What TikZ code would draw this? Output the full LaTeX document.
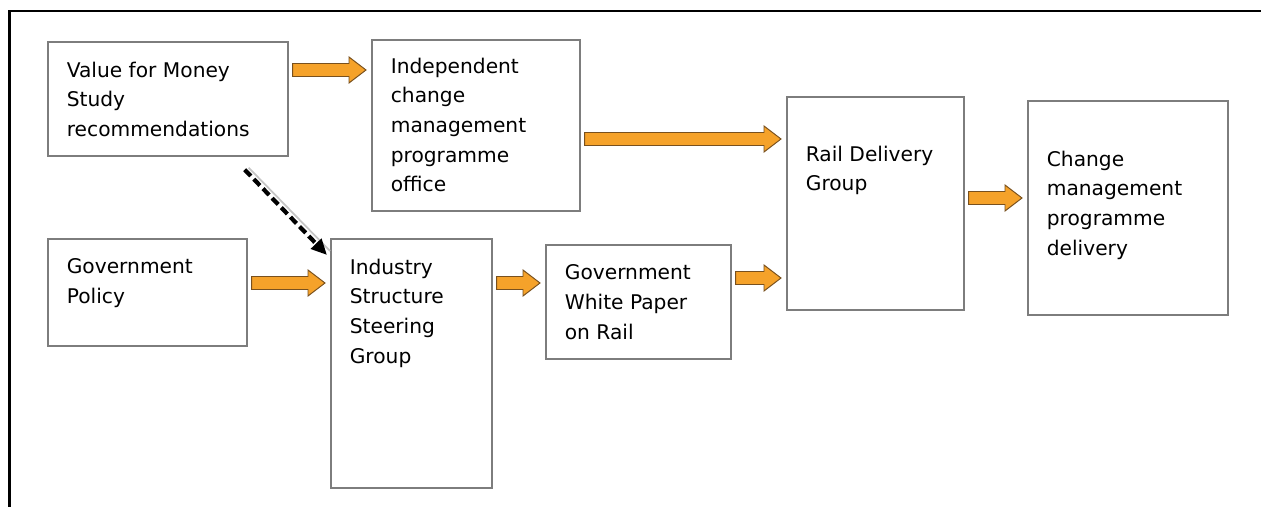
\documentclass[tikz,border=0pt]{standalone}
\usepackage{fontspec}
\setmainfont{DejaVu Sans}
\usetikzlibrary{arrows.meta,calc}

\definecolor{boxgray}{RGB}{125,125,125}
\definecolor{arrfill}{RGB}{245,162,42}
\definecolor{arredge}{RGB}{120,80,30}

\newlength\pxu
\setlength\pxu{0.02cm}
% box text: width, height, top gap, lines
\newcommand{\boxtxt}[4]{\parbox[t][#2\pxu][t]{#1\pxu}{\vspace*{#3\pxu}\leftskip=19\pxu\relax #4}}
% orange block arrow: from node, to node, y
\newcommand{\orangearrow}[3]{%
  \path ($(#1.east |- 0,#3)+(4,0)$) coordinate (oa-s)
        ($(#2.west |- 0,#3)+(-5,0)$) coordinate (oa-e);
  \draw[blockarrow] ($(oa-s)+(0,-6.5)$) -- ($(oa-e)+(-17,-6.5)$) -- ($(oa-e)+(-17,-13)$) -- (oa-e)
    -- ($(oa-e)+(-17,13)$) -- ($(oa-e)+(-17,6.5)$) -- ($(oa-s)+(0,6.5)$) -- cycle;}

\begin{document}
\begin{tikzpicture}[x=0.02cm, y=-0.02cm,
  box/.style={draw=boxgray, line width=0.95pt, anchor=north west, inner sep=0pt,
    font=\fontsize{11.5}{16.9}\selectfont},
  blockarrow/.style={fill=arrfill, draw=arredge, line width=0.55pt, line join=miter},
  dasharrow/.style={draw=black, line width=2.4pt, dash pattern=on 5pt off 2.5pt,
    -{Triangle[length=9pt, width=8pt]}}]

\useasboundingbox (0,0) rectangle (1261,507);

% outer frame
\draw[line width=1.4pt] (9.5,507) -- (9.5,11) -- (1261,11);

% boxes
\node[box] (VFM) at (47,41) {\boxtxt{240}{114}{20}{Value for Money\\Study\\recommendations}};
\node[box] (ICMPO) at (371,39) {\boxtxt{208}{171}{18}{Independent\\change\\management\\programme\\office}};
\node[box] (RDG) at (786,96) {\boxtxt{177}{213}{49}{Rail Delivery\\Group}};
\node[box] (CMPD) at (1027,100) {\boxtxt{200}{214}{50}{Change\\management\\programme\\delivery}};
\node[box] (GP) at (47,238) {\boxtxt{199}{107}{20}{Government\\Policy}};
\node[box] (ISSG) at (330,238) {\boxtxt{161}{249}{20}{Industry\\Structure\\Steering\\Group}};
\node[box] (GWP) at (545,244) {\boxtxt{185}{114}{20}{Government\\White Paper\\on Rail}};

% orange arrows
\orangearrow{VFM}{ICMPO}{70}
\orangearrow{ICMPO}{RDG}{139}
\orangearrow{RDG}{CMPD}{198}
\orangearrow{GP}{ISSG}{283}
\orangearrow{ISSG}{GWP}{283}
\orangearrow{GWP}{RDG}{278}

% dashed arrow
\coordinate (DS) at ($(VFM.south east)+(-44,13)$);
\coordinate (DE) at ($(ISSG.north west)+(-3,17)$);
\draw[gray!45, line width=1pt] ($(DS)+(4,-2)$) -- ($(DE)+(3,-4)$);
\draw[dasharrow] (DS) -- (DE);
\end{tikzpicture}
\end{document}
